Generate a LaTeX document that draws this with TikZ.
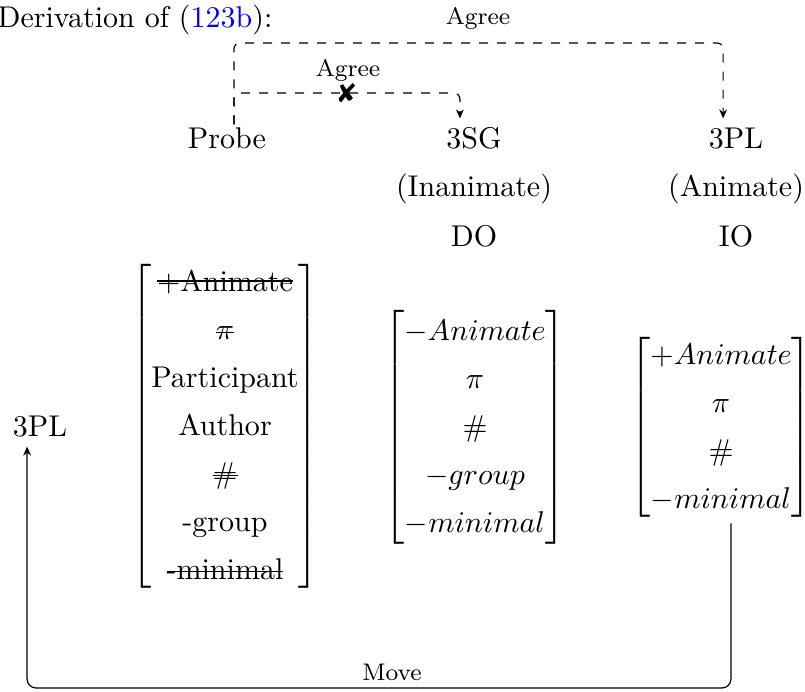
\documentclass[tikz,border=0pt]{standalone}
\usepackage{amsmath}
\usepackage{pifont}
\usetikzlibrary{arrows.meta}

% taller rows in the feature matrices
\renewcommand{\arraystretch}{1.33}
% struck-out feature (deleted by Agree)
\newcommand{\struck}[2][0.55ex]{\setbox0\hbox{#2}\rlap{\rule[#1]{\wd0}{0.4pt}}\box0}

\begin{document}
\begin{tikzpicture}[x=0.3333pt, y=-0.3333pt,
  lbl/.style={inner sep=1pt, text height=1.6ex, text depth=.25ex},
  fmat/.style={inner sep=0pt},
  oplbl/.style={font=\footnotesize, inner sep=1pt},
  agree/.style={dashed, rounded corners=2pt, -{Stealth[length=3pt,width=2.6pt]}},
  move/.style={rounded corners=3pt, -{Stealth[length=3pt,width=2.6pt]}}]

  %% title
  \node[anchor=base west, inner sep=0pt] (title) at (-3,27) {Derivation of (\textcolor{blue}{123b}):};

  %% probe and goals
  \node[lbl] (probe) at (227,140) {Probe};
  \node[lbl] (sg)    at (474,140) {3SG};
  \node[lbl] (pl)    at (736,140) {3PL};
  \node[lbl] (inan)  at (474,188) {(Inanimate)};
  \node[lbl] (anim)  at (736,188) {(Animate)};
  \node[lbl] (do)    at (474,238) {DO};
  \node[lbl] (io)    at (736,238) {IO};
  \node[lbl] (plmoved) at (40,428) {3PL};

  %% feature bundles
  \node[fmat] (probefeat) at (225,426) {$\begin{bmatrix}
      \text{\struck[0.8ex]{+Animate}}\\
      \text{\struck{$\pi$}}\\
      \text{Participant}\\
      \text{Author}\\
      \text{\struck{\#}}\\
      \text{-group}\\
      \text{\struck{-minimal}}
    \end{bmatrix}$};
  \node[fmat] (dofeat) at (475,427) {$\begin{bmatrix}
      -Animate\\ \pi\\ \#\\ -group\\ -minimal
    \end{bmatrix}$};
  \node[fmat] (iofeat) at (721,427) {$\begin{bmatrix}
      +Animate\\ \pi\\ \#\\ -minimal
    \end{bmatrix}$};

  %% Agree
  \draw[agree] ([xshift=2.3pt]probe.north) |- (478,43) -| ([xshift=-4.3pt,yshift=2pt]pl.north);
  \node[oplbl] (agreeok) at (478,18) {Agree};
  \draw[agree] ([xshift=2.3pt]probe.north) |- (348,93) -| ([xshift=-4.7pt,yshift=2pt]sg.north);
  \node[oplbl] (agreefail) at (348,70) {Agree};
  \node[inner sep=0pt, font=\small] (block) at (347,93) {\ding{56}};

  %% Move
  \draw[move] ([xshift=3.3pt]iofeat.south) |- (392,688) -| ([xshift=-4.3pt,yshift=-1pt]plmoved.south);
  \node[oplbl] (movelbl) at (392,672) {Move};

  \pgfresetboundingbox
  \path[use as bounding box] (0,0) rectangle (805,691);
\end{tikzpicture}
\end{document}
